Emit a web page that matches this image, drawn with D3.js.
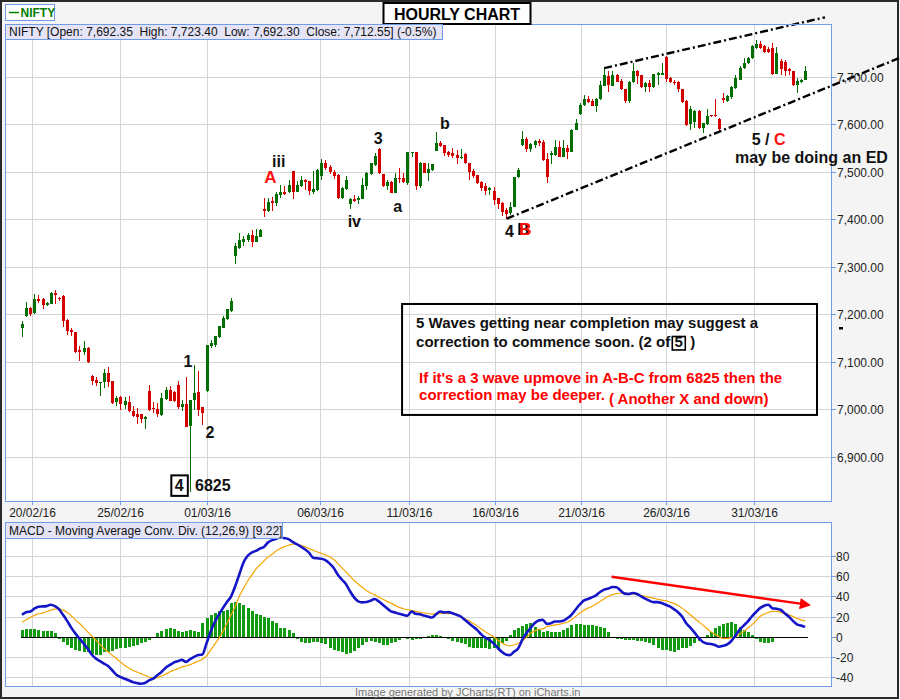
<!DOCTYPE html>
<html><head><meta charset="utf-8">
<script src="https://cdn.jsdelivr.net/npm/d3@7/dist/d3.min.js"></script>
<style>
html,body{margin:0;padding:0;background:#f4f4f4;}
svg{display:block;font-family:"Liberation Sans",Arial,Helvetica,sans-serif;}
</style></head><body>
<svg id="c" width="900" height="700"></svg>
<script>
// ---------------- DATA ----------------
// hourly candles [open, high, low, close]
const candles = [
[7170,7186,7153,7179],[7197,7226,7195,7214],[7214,7215,7197,7200],[7202,7243,7200,7231],[7231,7240,7224,7228],
[7231,7235,7212,7219],[7219,7226,7217,7224],[7222,7247,7221,7245],[7244,7250,7221,7240],[7234,7237,7228,7231],
[7239,7240,7174,7186],[7188,7189,7156,7165],[7167,7171,7154,7162],[7162,7163,7118,7121],[7125,7133,7102,7121],
[7120,7143,7114,7129],[7129,7130,7097,7099],[7070,7071,7051,7060],[7062,7068,7049,7055],[7055,7058,7028,7057],
[7057,7085,7045,7076],[7076,7089,7047,7058],[7059,7060,7012,7014],[7015,7028,7007,7023],[7026,7028,6998,7011],
[7009,7026,7000,7017],[7016,7028,6995,6996],[6997,7007,6984,6986],[6989,7003,6969,6984],[6989,6990,6972,6979],
[6979,6985,6958,6984],[7039,7050,6997,6998],[7002,7015,6992,7000],[7001,7014,6984,6989],[6988,7034,6986,7024],
[7022,7046,7019,7040],[7040,7049,7017,7018],[7037,7038,7016,7018],[7051,7059,7001,7005],[7004,7019,6997,7012],
[7012,7068,6962,6963],[6965,7020,6825,7019],[7019,7093,6998,7034],[7036,7080,6986,6998],[7004,7005,6967,6993],
[7039,7136,7037,7135],[7133,7146,7129,7140],[7135,7155,7130,7154],[7153,7176,7149,7175],[7172,7196,7171,7193],
[7190,7212,7188,7210],[7207,7234,7204,7228],[7323,7349,7306,7344],[7340,7370,7338,7356],[7352,7364,7344,7359],
[7356,7370,7352,7367],[7367,7377,7342,7353],[7353,7379,7351,7365],[7363,7379,7363,7377],[7422,7444,7405,7418],
[7418,7444,7416,7436],[7439,7447,7418,7435],[7435,7458,7428,7453],[7451,7472,7444,7458],[7458,7470,7451,7454],
[7457,7482,7455,7471],[7501,7502,7442,7458],[7458,7480,7457,7472],[7470,7490,7468,7483],[7483,7484,7462,7479],
[7480,7481,7451,7459],[7458,7502,7454,7464],[7462,7505,7460,7504],[7492,7527,7483,7519],[7519,7525,7504,7508],
[7510,7514,7495,7499],[7500,7504,7484,7492],[7493,7496,7442,7445],[7445,7468,7442,7466],[7464,7491,7462,7483],
[7431,7444,7422,7443],[7442,7451,7437,7438],[7440,7449,7431,7445],[7443,7486,7442,7472],[7470,7500,7462,7497],
[7495,7518,7493,7518],[7514,7540,7513,7533],[7548,7549,7495,7497],[7495,7496,7468,7470],[7470,7483,7462,7479],
[7479,7480,7455,7456],[7456,7497,7455,7487],[7487,7507,7476,7486],[7487,7497,7476,7479],[7476,7542,7472,7541],
[7539,7542,7532,7541],[7541,7542,7462,7470],[7470,7521,7465,7518],[7518,7519,7497,7498],[7497,7519,7481,7505],
[7504,7517,7502,7516],[7544,7584,7543,7560],[7560,7565,7553,7554],[7556,7557,7534,7540],[7542,7543,7531,7536],
[7539,7549,7529,7534],[7536,7546,7516,7528],[7528,7548,7527,7532],[7537,7539,7517,7518],[7518,7519,7483,7500],
[7502,7505,7486,7492],[7493,7494,7475,7476],[7479,7480,7460,7465],[7470,7476,7451,7460],[7462,7468,7451,7465],
[7460,7468,7430,7440],[7444,7445,7421,7432],[7435,7436,7407,7416],[7419,7423,7401,7412],[7414,7437,7409,7426],
[7426,7489,7425,7488],[7488,7507,7486,7504],[7556,7586,7554,7568],[7568,7574,7541,7548],[7548,7560,7541,7558],
[7556,7566,7549,7565],[7565,7569,7554,7561],[7563,7567,7523,7525],[7527,7539,7477,7488],[7535,7544,7516,7539],
[7535,7567,7534,7553],[7553,7565,7530,7532],[7532,7567,7530,7549],[7549,7556,7526,7542],[7542,7589,7541,7588],
[7588,7612,7587,7602],[7621,7644,7619,7640],[7640,7661,7639,7654],[7654,7659,7645,7647],[7649,7654,7638,7639],
[7639,7656,7626,7654],[7653,7692,7652,7682],[7681,7718,7680,7704],[7701,7711,7667,7682],[7681,7711,7680,7704],
[7704,7705,7688,7689],[7691,7695,7672,7674],[7674,7675,7645,7649],[7649,7690,7644,7689],[7688,7729,7687,7712],
[7712,7714,7685,7702],[7703,7704,7676,7678],[7678,7689,7668,7686],[7686,7693,7667,7678],[7678,7706,7676,7705],
[7704,7709,7683,7707],[7704,7728,7703,7707],[7742,7743,7689,7695],[7698,7699,7687,7688],[7689,7693,7682,7686],
[7689,7690,7668,7674],[7674,7675,7645,7647],[7649,7650,7596,7598],[7600,7638,7588,7632],[7604,7630,7591,7628],
[7628,7629,7590,7591],[7593,7603,7581,7602],[7600,7632,7599,7618],[7619,7620,7616,7617],[7619,7653,7615,7617],
[7612,7614,7586,7589],[7656,7665,7644,7652],[7649,7661,7647,7659],[7657,7680,7654,7678],[7676,7704,7674,7697],
[7694,7722,7693,7719],[7718,7739,7716,7729],[7728,7742,7727,7739],[7739,7767,7737,7765],[7760,7777,7759,7768],
[7768,7775,7759,7761],[7765,7766,7749,7751],[7758,7763,7749,7751],[7760,7770,7704,7706],[7706,7762,7705,7749],
[7734,7737,7704,7716],[7732,7735,7702,7713],[7716,7718,7704,7712],[7712,7713,7680,7683],[7683,7697,7665,7692],
[7689,7696,7686,7693],[7692.35,7723.4,7692.3,7712.55]
];

const macdLine = [
21.7,24.3,25,27.7,29.7,30,30.3,31.7,
30.3,27.3,21.7,15.7,9,3.3,-1.7,-6.7,-11.7,-17.7,-21.7,-24.3,-26.7,-29,-33.3,-37.7,-40,-41.7,-43.3,-45,-46,-46.7,-46,-43.3,-41.7,-38.3,-35,-31,-28.3,-25.7,-24.3,-23,-25,-22.3,-20,-18.3,-17.7,-6.7,5,14.3,21.7,28.3,34.3,40,50,61.7,73.3,80,83.3,85,87.3,89,93.3,95.7,97,98.3,97.7,
96.7,94,91.7,89.3,86.7,83.3,78.3,77.7,77.3,76,72.7,68.3,61.7,56.7,52.3,45,39,35,34,34.3,35.7,37.3,35,31.7,28.3,25,24,22.7,21.7,20.7,25,22.7,22.3,21,20,19,22.3,25,
24,
24.3,23.3,21.7,20,16.7,13.3,10,6.7,2.3,-1,-3.3,-6.7,-11,-15,-17.7,-18.3,-15,-11.7,-3.3,3.3,8.3,13.3,16,16.7,12.7,13.3,15,15,
15.7,18.3,21.7,26.7,31.7,35.7,37.3,39,41,44.3,46.7,47.7,49.3,49,45.7,42.7,42.3,43.3,42.3,40,37.7,35.7,34.3,34.3,33.3,31.7,30,27.3,24.3,20,13.3,9,4.3,-1,-5,-6.7,-7.3,-8.3,-10,-9,-7.7,-4.3,1,6.7,11,15,20,24.3,28.3,30.7,31.7,
28.3,27.7,26.7,23.3,20,15.7,12.3,11,9.7
];

const signalLine = [
14.3,16.7,19,21,22.7,23.3,25,26.3,27.3,27.7,
26.3,24.3,20.7,16.7,13.3,9,5,0.7,-3.3,-7.7,-11.7,-15,-18.3,-21.7,-25,-28.3,-31,-33.3,-35,-36.7,-38.3,-40,-41,-40.7,-39,-37.3,-35,-33.3,-31.7,-30,-29,-27.7,-26,-24.3,-22.3,-19,-13.3,-7.7,-1.7,5,13.3,21.7,30,40,47.7,55,60.7,66.7,71,75,79,81.7,85,87.3,89.3,90.7,91.7,
91.7,90.7,89.3,87.3,85.7,84,82.7,81,79.3,76.7,72.7,68.3,64.3,60,55.7,52.3,49,45.7,43.3,41.7,39,37.3,35,33.3,31,29,27.7,26.7,26,25,24.3,23.7,23,22.3,22.7,23,
23.3,
22.7,
23.3,22.3,20,17.7,15.7,13.3,10.7,7.7,5,2.3,0,-3.3,-6,-8.3,-9,-8.3,-6.7,-4.3,-1,3.3,5.7,7.3,7.7,10,10.7,11.7,12.3,13.3,14.3,16.7,20,23.3,26,28.3,30,32.3,35,37.7,40,41.7,42.7,43.3,43.3,42.7,42.3,41.7,41,40,39,38.3,37.3,36.3,35.7,34.3,33,31,28.3,25,21.7,18.3,15,11.7,8.3,5,2.3,0,-1.7,-1.7,-1,0,2.3,5,8.3,11.7,15.7,20,22.3,24,25,
25,24.3,22.7,21.7,20,18.3,16.7,15.7
];

const histogram = [
6.7,
7.3,7.7,7.7,7,6,5.7,5.3,3.3,-2.3,-5,-8.3,-11.7,-13.3,-14.3,-15,-15.7,-16.7,-18.3,-17.7,-15.7,-15,-14.3,-12.7,-11.7,-11,-10,-9,-8.3,-6.7,-5.7,-3.3,-1.7,0,3.3,6,7.3,8.3,7.7,5.7,5,6,7,5.7,5,13.3,18.3,21.7,23.3,25.7,25.7,26.7,33.3,34.3,33.3,31,28.3,25,22.3,21.7,20,18.3,15.7,13.3,9,8.3,6.7,3.3,0,
-2.3,-5.7,-6.7,-6,-5,-5,-6,-7.7,-11.7,-13.3,-14.3,-15,-16.7,-16,-14.3,-11.7,-8.3,-5,-4.3,-5,-6.7,-8.3,-8.3,-6.7,-5,-3.3,-1,-2.3,-3.3,
-2.7,-2.3,-1,0.7,1.7,1.7,
0.5,0,-1,-2.3,-4.3,-5.7,-6.7,-7.7,-10,-11,-11.7,-11,-11.7,-12.7,-11,-11.7,-6.7,-4.3,2,6.7,9,11,12.3,13.3,10,6.7,5,5.7,4.3,4.3,5,6.7,8.3,11.7,12.7,12.7,
11.7,11.7,11.7,10.7,10,8.3,5,0,0,0,0,-1.7,-2.7,-2.7,-3.3,-3.3,-3.3,-4.3,-4.3,-5,-6.7,-8.3,-11.7,-13.3,-13.3,-14.3,-15,-13.3,-11.7,-11,-9,-6.7,-4.3,-1.7,1.7,5,8.3,10.7,12.3,13.3,14.3,
12.3,10,6.7,5,1.7,0,-2.3,-5,-6.7,-6.7,-5.7
];

const dateLabels = ["20/02/16","25/02/16","01/03/16","06/03/16","11/03/16","16/03/16","21/03/16","26/03/16","31/03/16"];
const dateTickBars = [2.44, 24.0, 45.05, 72.6, 94.3, 115.3, 136.3, 157.1, 178.5];
const priceTicks = [6900,7000,7100,7200,7300,7400,7500,7600,7700];
const macdTicks = [-40,-20,0,20,40,60,80];

// trend lines and arrow, as [bar index, value]
const upperTrend = [[142,7718],[195.85,7825]];
const lowerTrend = [[118.2,7401],[214.15,7740]];
const macdArrow = [[143.8,59.4],[192.2,31.4]];

// wave count labels [text, bar index, price at baseline]
const blackLabels = [["1",40.5,7088],["2",45.85,6939],["iii",62.6,7510],["3",86.9,7558],["iv",81.05,7383],["a",91.66,7416],["b",103.17,7589],["4",118.9,7363]];
const redLabels = [["A",60.6,7476],["B",122.76,7367]];
const lowLabel = ["4","6825",38.37,42.2,6827];
const endLabel = ["5 / ","C",177.98,7556];
const edLabel = ["may be doing an ED",173.9,7518.3];
const noteCorners = [[92.7,7221.5],[193.9,6987.9]];
const noteBlack = ["5 Waves getting near completion may suggest a","correction to commence soon. (2 of","5",")"];
const noteRed = ["If it's a 3 wave upmove in A-B-C from 6825 then the","correction may be deeper.","( Another X and down)"];
const infoText = "NIFTY [Open: 7,692.35  High: 7,723.40  Low: 7,692.30  Close: 7,712.55] (-0.5%)";
const macdTitle = "MACD - Moving Average Conv. Div. (12,26,9) [9.22]";

// ---------------- DRAW ----------------
const svg = d3.select("#c");
const L=5, R=831, T=24, B=501, T2=522, B2=686;
const BLUE="#6f9be8", GRID="#d4d4d4", GREEN="#006e00", RED="#d40000";

const x = d3.scaleLinear().domain([0,191]).range([22,805.1]);
const y = d3.scaleLinear().domain([6900,7700]).range([456.7,76.7]);
const ym = d3.scaleLinear().domain([-40,80]).range([677,556]);

const defs = svg.append("defs");
const sh = defs.append("filter").attr("id","bshadow").attr("x","-50%").attr("y","-20%").attr("width","200%").attr("height","140%");
sh.append("feOffset").attr("in","SourceAlpha").attr("dx",-2).attr("dy",0).attr("result","off");
sh.append("feFlood").attr("flood-color","#000");
sh.append("feComposite").attr("in2","off").attr("operator","in").attr("result","shadow");
const fm = sh.append("feMerge");
fm.append("feMergeNode").attr("in","shadow");
fm.append("feMergeNode").attr("in","SourceGraphic");

svg.append("rect").attr("x",1).attr("y",1).attr("width",897).attr("height",697)
  .attr("fill","#f4f4f4").attr("stroke","#2a2a2a").attr("stroke-width",2);

[[T,B],[T2,B2]].forEach(([t,b])=>{
  svg.append("rect").attr("x",L+0.5).attr("y",t+0.5).attr("width",R-L).attr("height",b-t).attr("fill","#fff");
});

const grid = svg.append("g").attr("stroke",GRID).attr("stroke-width",1).attr("shape-rendering","crispEdges");
priceTicks.forEach(p=>{
  const yy=Math.round(y(p))+0.5;
  grid.append("line").attr("x1",L).attr("x2",R).attr("y1",yy).attr("y2",yy);
});
macdTicks.filter(v=>v!==0).forEach(v=>{
  const yy=Math.round(ym(v))+0.5;
  grid.append("line").attr("x1",L).attr("x2",R).attr("y1",yy).attr("y2",yy);
});
dateTickBars.forEach(b=>{
  const xx=Math.round(x(b))+0.5;
  grid.append("line").attr("x1",xx).attr("x2",xx).attr("y1",T).attr("y2",B);
  grid.append("line").attr("x1",xx).attr("x2",xx).attr("y1",T2).attr("y2",B2);
});

// candles
const cg = svg.append("g").attr("shape-rendering","crispEdges");
candles.forEach((d,i)=>{
  const [o,h,l,c]=d;
  const col = c>=o ? GREEN : RED;
  const cx = Math.round(x(i));
  cg.append("line").attr("x1",cx+0.5).attr("x2",cx+0.5).attr("y1",y(h)).attr("y2",y(l)).attr("stroke",col).attr("stroke-width",1);
  const top=y(Math.max(o,c)), bot=y(Math.min(o,c));
  cg.append("rect").attr("x",cx-1).attr("y",top).attr("width",3).attr("height",Math.max(1.2,bot-top)).attr("fill",col);
});

// trend lines
const tl = d3.line().x(d=>x(d[0])).y(d=>y(d[1]));
[upperTrend,lowerTrend].forEach(t=>{
  svg.append("path").attr("d",tl(t)).attr("fill","none").attr("stroke","#000")
    .attr("stroke-width",2.4).attr("stroke-dasharray","8,3,2,3");
});

// MACD
const mg = svg.append("g");
mg.append("g").attr("shape-rendering","crispEdges").selectAll("rect").data(histogram).join("rect")
  .filter(v=>v!==0)
  .attr("x",(v,i)=>Math.round(x(i))-1).attr("width",3)
  .attr("y",v=>ym(Math.max(v,0))).attr("height",v=>Math.abs(ym(v)-ym(0)))
  .attr("fill","#129a12");
mg.append("line").attr("x1",x(-0.3)).attr("x2",x(191.7)).attr("y1",Math.round(ym(0))+0.5).attr("y2",Math.round(ym(0))+0.5)
  .attr("stroke","#000").attr("stroke-width",1).attr("shape-rendering","crispEdges");
const ml = d3.line().x((d,i)=>x(i)).y(d=>ym(d)).curve(d3.curveMonotoneX);
mg.append("path").attr("d",ml(signalLine)).attr("fill","none").attr("stroke","#f5a500").attr("stroke-width",1.2);
mg.append("path").attr("d",ml(macdLine)).attr("fill","none").attr("stroke","#1515c8").attr("stroke-width",2.6).attr("stroke-linejoin","round");

defs.append("marker").attr("id","arr").attr("viewBox","0 0 10 10").attr("refX",2).attr("refY",5)
  .attr("markerWidth",4.5).attr("markerHeight",4.5).attr("orient","auto").attr("markerUnits","strokeWidth")
  .append("path").attr("d","M0,0 L10,5 L0,10 z").attr("fill","#ff0000");
const a0=macdArrow[0], a1=macdArrow[1];
const ax0=x(a0[0]), ay0=ym(a0[1]), ax1=x(a1[0]), ay1=ym(a1[1]);
const ang=Math.atan2(ay1-ay0,ax1-ax0);
svg.append("line").attr("x1",ax0).attr("y1",ay0).attr("x2",ax1-Math.cos(ang)*8).attr("y2",ay1-Math.sin(ang)*8)
  .attr("stroke","#ff0000").attr("stroke-width",2.5).attr("marker-end","url(#arr)");

// panel borders
[[T,B],[T2,B2]].forEach(([t,b])=>{
  svg.append("rect").attr("x",L+0.5).attr("y",t+0.5).attr("width",R-L).attr("height",b-t)
    .attr("fill","none").attr("stroke",BLUE).attr("stroke-width",1).attr("shape-rendering","crispEdges");
});

// axes
const ax = svg.append("g").attr("font-size",12).attr("fill","#222");
priceTicks.forEach(p=>{
  const yy=Math.round(y(p))+0.5;
  svg.append("line").attr("x1",R).attr("x2",R+5).attr("y1",yy).attr("y2",yy).attr("stroke",BLUE).attr("shape-rendering","crispEdges");
  ax.append("text").attr("x",R+6).attr("y",yy+4.5).text(d3.format(",.2f")(p));
});
macdTicks.forEach(v=>{
  const yy=Math.round(ym(v))+0.5;
  svg.append("line").attr("x1",R).attr("x2",R+5).attr("y1",yy).attr("y2",yy).attr("stroke",BLUE).attr("shape-rendering","crispEdges");
  ax.append("text").attr("x",R+5).attr("y",yy+4.5).text(v);
});
dateTickBars.forEach((b,k)=>{
  const xx=Math.round(x(b))+0.5;
  svg.append("line").attr("x1",xx).attr("x2",xx).attr("y1",B).attr("y2",B+4).attr("stroke",BLUE).attr("shape-rendering","crispEdges");
  ax.append("text").attr("x",xx).attr("y",517).attr("text-anchor","middle").text(dateLabels[k]);
});
svg.append("rect").attr("x",839).attr("y",327).attr("width",4).attr("height",2.5).attr("fill","#000");

// wave labels
const lab = svg.append("g").attr("font-weight","bold").attr("font-size",16).attr("text-anchor","middle");
blackLabels.forEach(([t,b,p])=>lab.append("text").attr("x",x(b)).attr("y",y(p)).attr("fill","#111").text(t));
redLabels.forEach(([t,b,p])=>{
  const tx = lab.append("text").attr("x",x(b)).attr("y",y(p)).attr("fill","#ff1010").attr("font-size",17).text(t);
  if(t==="B") tx.attr("filter","url(#bshadow)");
});
// boxed 4 and 6825
{
  const cx=x(lowLabel[2]), by=y(lowLabel[4]);
  svg.append("rect").attr("x",cx-8).attr("y",by-16).attr("width",16.5).attr("height",20.5).attr("fill","#fff").attr("stroke","#000").attr("stroke-width",2);
  svg.append("text").attr("x",cx).attr("y",by).attr("text-anchor","middle").attr("font-weight","bold").attr("font-size",16).attr("fill","#111").text(lowLabel[0]);
  svg.append("text").attr("x",x(lowLabel[3])).attr("y",by).attr("font-weight","bold").attr("font-size",16).attr("fill","#111").text(lowLabel[1]);
}
{
  const t=svg.append("text").attr("x",x(endLabel[2])).attr("y",y(endLabel[3])).attr("font-weight","bold").attr("font-size",16).attr("fill","#111").style("white-space","pre");
  t.append("tspan").text(endLabel[0]);
  t.append("tspan").attr("fill","#ff1010").text(endLabel[1]);
  svg.append("text").attr("x",x(edLabel[1])).attr("y",y(edLabel[2])).attr("font-weight","bold").attr("font-size",16).attr("fill","#111").text(edLabel[0]);
}

// note box
{
  const bx0=x(noteCorners[0][0]), by0=y(noteCorners[0][1]), bx1=x(noteCorners[1][0]), by1=y(noteCorners[1][1]);
  svg.append("rect").attr("x",bx0).attr("y",by0).attr("width",bx1-bx0).attr("height",by1-by0).attr("fill","none").attr("stroke","#000").attr("stroke-width",2);
  const g=svg.append("g").attr("font-weight","bold").attr("font-size",15);
  g.append("text").attr("x",bx0+14).attr("y",by0+24).attr("fill","#111").text(noteBlack[0]);
  const l2=g.append("text").attr("x",bx0+14).attr("y",by0+43).attr("fill","#111").text(noteBlack[1]);
  const w2=l2.node().getComputedTextLength();
  const fx=bx0+14+w2+2;
  g.append("rect").attr("x",fx).attr("y",by0+32.5).attr("width",13).attr("height",13.5).attr("fill","none").attr("stroke","#000").attr("stroke-width",1.6);
  g.append("text").attr("x",fx+6.5).attr("y",by0+43).attr("text-anchor","middle").attr("fill","#111").text(noteBlack[2]);
  g.append("text").attr("x",fx+18).attr("y",by0+43).attr("fill","#111").text(noteBlack[3]);
  g.append("text").attr("x",bx0+17).attr("y",by0+79).attr("fill","#ff0000").text(noteRed[0]);
  const r2=g.append("text").attr("x",bx0+17).attr("y",by0+96).attr("fill","#ff0000").text(noteRed[1]);
  const wr=r2.node().getComputedTextLength();
  g.append("text").attr("x",bx0+17+wr+4).attr("y",by0+100).attr("fill","#ff0000").text(noteRed[2]);
}

// headers
svg.append("rect").attr("x",383.5).attr("y",3).attr("width",147).attr("height",21).attr("fill","#fff").attr("stroke","#000").attr("stroke-width",2);
svg.append("text").attr("x",457).attr("y",19.5).attr("text-anchor","middle").attr("font-weight","bold").attr("font-size",16).attr("fill","#000").text("HOURLY CHART");

svg.append("rect").attr("x",5.5).attr("y",4.5).attr("width",49).attr("height",16).attr("fill","#fff").attr("stroke",BLUE).attr("shape-rendering","crispEdges");
svg.append("line").attr("x1",9).attr("x2",19).attr("y1",12.5).attr("y2",12.5).attr("stroke","#008000").attr("stroke-width",1.5);
svg.append("text").attr("x",20.5).attr("y",17).attr("font-weight","bold").attr("font-size",12).attr("fill","#008000").text("NIFTY");

svg.append("rect").attr("x",5.5).attr("y",24.5).attr("width",437).attr("height",15).attr("fill","#e4e4f6").attr("stroke",BLUE).attr("shape-rendering","crispEdges");
svg.append("text").attr("x",9).attr("y",36).attr("font-size",12).attr("fill","#111").attr("xml:space","preserve").style("white-space","pre").text(infoText);

svg.append("rect").attr("x",5.5).attr("y",522.5).attr("width",277).attr("height",16).attr("fill","#e4e4f6").attr("stroke",BLUE).attr("shape-rendering","crispEdges");
svg.append("text").attr("x",9).attr("y",535).attr("font-size",12).attr("fill","#111").text(macdTitle);

svg.append("text").attr("x",355).attr("y",696).attr("font-size",11).attr("fill","#777").text("Image generated by JCharts(RT) on iCharts.in");
</script>
</body></html>
